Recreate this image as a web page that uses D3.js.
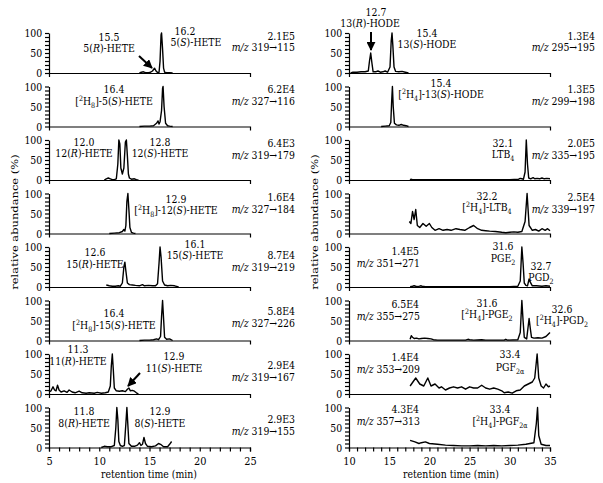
<!DOCTYPE html>
<html><head><meta charset="utf-8">
<script src="https://cdn.jsdelivr.net/npm/d3@7"></script>
<style>
body{margin:0;background:#fff}
</style>
</head><body>
<svg id="c" width="603" height="483"></svg>
<script>
// ---------------- DATA ----------------
const trace_5HETE = [[14.0,0],[14.2,2],[14.4,3],[14.6,1],[14.9,1],[15.1,2],[15.3,5],[15.5,12],[15.65,5],[15.8,1],[15.95,2],[16.05,30],[16.15,95],[16.2,100],[16.3,60],[16.4,12],[16.5,2],[16.7,1],[17.0,1],[17.3,0]];
const trace_d8_5HETE = [[14.0,0],[14.5,1],[15.0,1],[15.4,2],[15.7,8],[15.85,14],[15.95,6],[16.05,12],[16.2,40],[16.3,95],[16.35,100],[16.45,50],[16.6,8],[16.8,2],[17.0,1],[17.3,0]];
const trace_12HETE = [[10.5,0],[10.7,3],[10.9,5],[11.1,3],[11.3,1],[11.5,1],[11.7,3],[11.85,40],[11.95,100],[12.05,90],[12.15,30],[12.3,15],[12.45,30],[12.6,95],[12.7,100],[12.8,60],[12.9,15],[13.0,5],[13.2,2],[13.5,3],[13.7,1],[13.9,0]];
const trace_d8_12HETE = [[11.0,0],[11.5,1],[12.0,2],[12.3,5],[12.45,10],[12.55,6],[12.65,20],[12.75,80],[12.85,100],[12.95,60],[13.05,15],[13.2,3],[13.4,1],[13.6,0]];
const trace_15HETE = [[10.7,5],[11.0,3],[11.3,2],[11.6,2],[11.9,3],[12.1,2],[12.3,10],[12.45,50],[12.55,62],[12.65,40],[12.8,10],[13.0,6],[13.3,5],[13.6,4],[14.0,3],[14.3,6],[14.5,3],[14.9,4],[15.3,3],[15.6,3],[15.8,8],[15.95,60],[16.05,100],[16.15,75],[16.3,15],[16.5,5],[16.8,3],[17.1,4],[17.5,3],[17.9,0]];
const trace_d8_15HETE = [[14.0,0],[14.5,1],[15.0,1],[15.4,2],[15.7,4],[15.9,2],[16.1,10],[16.2,60],[16.3,100],[16.4,55],[16.5,8],[16.7,3],[17.0,4],[17.3,0]];
const trace_11HETE = [[5.0,5],[5.2,8],[5.4,18],[5.55,10],[5.7,8],[5.85,22],[6.0,10],[6.2,5],[6.5,8],[6.8,4],[7.0,10],[7.3,5],[7.6,3],[8.0,7],[8.3,3],[8.7,2],[9.0,3],[9.5,2],[9.8,4],[10.2,2],[10.6,3],[10.9,5],[11.1,20],[11.2,70],[11.3,100],[11.4,60],[11.5,15],[11.7,8],[12.0,7],[12.3,8],[12.6,6],[12.8,12],[12.95,15],[13.1,8],[13.3,9],[13.5,7],[13.7,3],[13.9,0]];
const trace_8HETE = [[10.2,0],[10.5,3],[10.8,2],[11.2,2],[11.5,5],[11.65,50],[11.75,100],[11.85,70],[11.95,15],[12.1,5],[12.3,3],[12.5,5],[12.65,60],[12.75,100],[12.85,55],[12.95,10],[13.2,3],[13.5,3],[13.8,6],[14.0,12],[14.15,5],[14.3,8],[14.45,25],[14.6,10],[14.8,3],[15.2,2],[15.6,4],[15.9,10],[16.1,8],[16.4,2],[16.8,2],[17.0,8],[17.2,15]];

const trace_13HODE = [[10.2,0],[10.5,2],[11.0,2],[11.5,3],[12.0,3],[12.4,5],[12.55,30],[12.7,50],[12.85,25],[13.0,3],[13.3,3],[13.6,5],[13.9,2],[14.2,3],[14.5,5],[14.8,2],[15.1,15],[15.25,80],[15.35,100],[15.45,70],[15.6,15],[15.8,4],[16.2,3],[16.6,4],[17.0,2],[17.4,0]];
const trace_d4_13HODE = [[14.0,0],[14.5,1],[15.0,2],[15.2,10],[15.3,60],[15.4,100],[15.5,50],[15.65,8],[15.9,4],[16.2,3],[16.5,5],[16.8,3],[17.1,2],[17.4,0]];
const trace_LTB4 = [[17.6,0],[17.7,2],[17.9,1],[18.5,1],[20,1],[22,1],[25,1],[28,1],[30,1],[31.1,2],[31.3,4],[31.5,3],[31.7,2],[31.9,20],[32.05,100],[32.2,40],[32.35,5],[32.6,3],[32.9,6],[33.1,3],[33.4,4],[33.7,3],[34,5],[34.3,3],[34.6,4],[35,3]];
const trace_d4_LTB4 = [[17.5,30],[17.7,25],[17.9,55],[18.1,35],[18.3,60],[18.5,20],[18.8,15],[19.2,25],[19.6,18],[20.0,25],[20.3,15],[20.7,8],[21.2,12],[21.7,8],[22.2,10],[22.7,8],[23.3,12],[23.8,10],[24.4,8],[25.0,15],[25.5,20],[26.0,12],[26.5,8],[27,7],[27.5,6],[28.2,5],[29,3],[29.5,2],[30,3],[30.5,4],[31,3],[31.5,5],[31.9,30],[32.15,100],[32.4,20],[32.8,8],[33.2,10],[33.6,6],[34,12],[34.4,8],[34.7,12],[35,7]];
const trace_PGE2_PGD2 = [[17.6,1],[17.9,2],[18.1,3],[18.3,2],[18.6,1],[18.9,3],[19.1,2],[19.5,1],[22,1],[25,1],[28,1],[30,1],[31.0,2],[31.3,15],[31.5,100],[31.65,60],[31.8,10],[32.0,4],[32.2,3],[32.4,20],[32.55,12],[32.8,3],[33.3,3],[34,2],[34.5,3],[35,2]];
const trace_d4_PGE2_PGD2 = [[17.6,3],[17.75,12],[17.9,8],[18.1,5],[18.4,6],[18.7,4],[19,5],[19.4,6],[19.8,5],[20.2,4],[20.5,2],[21,1],[23,1],[24.5,1],[24.8,3],[25,2],[25.5,1],[26.5,2],[27,1],[29.3,1],[29.5,3],[29.7,1],[31.0,2],[31.3,20],[31.5,100],[31.65,50],[31.8,8],[32.1,4],[32.4,55],[32.55,30],[32.7,8],[33.0,6],[33.5,7],[34,6],[34.5,10],[35,20]];
const trace_PGF2a = [[17.6,20],[18.3,40],[18.8,25],[19.3,20],[19.8,40],[20.2,20],[20.7,25],[21.2,15],[21.5,18],[22,10],[22.5,15],[23,18],[23.5,15],[24,18],[24.5,12],[25,18],[25.5,15],[26,15],[26.5,22],[27,15],[27.5,12],[28,15],[28.5,12],[29,8],[29.3,3],[29.8,5],[30.3,2],[30.8,8],[31.3,10],[31.8,20],[32.3,25],[32.8,30],[33.1,40],[33.4,100],[33.6,40],[33.9,20],[34.2,15],[34.5,25],[34.8,18],[35,20]];
const trace_d4_PGF2a = [[17.6,18],[18.2,14],[18.7,10],[19.0,12],[19.5,14],[20,10],[21,8],[22,6],[23,5],[24,4],[25,4],[26,5],[27,4],[28,5],[29,4],[30,5],[31,6],[32,8],[32.5,10],[33,12],[33.3,60],[33.45,100],[33.6,30],[33.9,8],[34.5,5],[35,5]];

const leftTraces = [trace_5HETE, trace_d8_5HETE, trace_12HETE, trace_d8_12HETE, trace_15HETE, trace_d8_15HETE, trace_11HETE, trace_8HETE];
const rightTraces = [trace_13HODE, trace_d4_13HODE, trace_LTB4, trace_d4_LTB4, trace_PGE2_PGD2, trace_d4_PGE2_PGD2, trace_PGF2a, trace_d4_PGF2a];

const leftIntensity = ["2.1E5","6.2E4","6.4E3","1.6E4","8.7E4","5.8E4","2.9E4","2.9E3"];
const leftTransition = ["319→115","327→116","319→179","327→184","319→219","327→226","319→167","319→155"];
const rightIntensity = ["1.3E4","1.3E5","2.0E5","2.5E4","1.4E5","6.5E4","1.4E4","4.3E4"];
const rightTransition = ["295→195","299→198","335→195","339→197","351→271","355→275","353→209","357→313"];

const leftXDomain = [5, 25];
const rightXDomain = [10, 35];
const leftXTickLabels = [5, 10, 15, 20, 25];
const rightXTickLabels = [10, 15, 20, 25, 30, 35];
const yTickLabels = [0, 50, 100];
const yTitle = "relative abundance (%)";
const xTitle = "retention time (min)";

const leftPeakLabels = [
  [["15.5","5(*R*)-HETE"],["16.2","5(*S*)-HETE"]],
  [["16.4","[^2H_8]-5(*S*)-HETE"]],
  [["12.0","12(*R*)-HETE"],["12.8","12(*S*)-HETE"]],
  [["12.9","[^2H_8]-12(*S*)-HETE"]],
  [["12.6","15(*R*)-HETE"],["16.1","15(*S*)-HETE"]],
  [["16.4","[^2H_8]-15(*S*)-HETE"]],
  [["11.3","11(*R*)-HETE"],["12.9","11(*S*)-HETE"]],
  [["11.8","8(*R*)-HETE"],["12.9","8(*S*)-HETE"]]
];
const rightPeakLabels = [
  [["12.7","13(*R*)-HODE"],["15.4","13(*S*)-HODE"]],
  [["15.4","[^2H_4]-13(*S*)-HODE"]],
  [["32.1","LTB_4"]],
  [["32.2","[^2H_4]-LTB_4"]],
  [["31.6","PGE_2"],["32.7","PGD_2"]],
  [["31.6","[^2H_4]-PGE_2"],["32.6","[^2H_4]-PGD_2"]],
  [["33.4","PGF_2_α"]],
  [["33.4","[^2H_4]-PGF_2_α"]]
];

// ---------------- LAYOUT ----------------
const FONT = "DejaVu Serif";
const SX = 0.85;            // horizontal squeeze of the glyphs, as in the reference
const FS = 11;
const svg = d3.select("#c");
const rowBase = i => 73 + 53.5 * i;
const panelH = 40;
const cols = [
  {x0: 49, x1: 250, domain: leftXDomain, ticks: leftXTickLabels, traces: leftTraces,
   inten: leftIntensity, trans: leftTransition, peaks: leftPeakLabels, titleX: 18, xTitleX: 149},
  {x0: 349, x1: 550, domain: rightXDomain, ticks: rightXTickLabels, traces: rightTraces,
   inten: rightIntensity, trans: rightTransition, peaks: rightPeakLabels, titleX: 318, xTitleX: 451}
];

// label positions: [x, baseline of retention-time line, baseline of name line] (or [xRt, yRt, yName, xName])
const leftPeakPos = [
  [[109,41,52],[185,35,46,196]],
  [[114,93,105]],
  [[84,146,157],[160,146,157]],
  [[176,203,214]],
  [[95,256,268],[195,248,259]],
  [[114,317,329]],
  [[78,353,365],[174,360,372]],
  [[84,415,427],[160,415,427]]
];
const rightPeakPos = [
  [[376,16,27,370],[427,37,48]],
  [[441,87,98]],
  [[503,147,158]],
  [[487,200,211]],
  [[503,250,262],[541,270,281]],
  [[487,307,318],[562,313,324]],
  [[510,358,371]],
  [[500,413,425]]
];
const leftInfoY = [[40,51],[93,105],[147,159],[201,213],[259,271],[315,327],[369,381],[423,435]];
const rightInfoY = [[40,51],[93,105],[147,159],[201,213],[255,267],[308,320],[361,373],[413,425]];

const defs = svg.append("defs");
defs.append("marker").attr("id","ah").attr("viewBox","0 0 10 10").attr("refX",9).attr("refY",5)
  .attr("markerWidth",4.5).attr("markerHeight",4.5).attr("orient","auto")
  .append("path").attr("d","M0,0 L10,5 L0,10 z").attr("fill","#000");

function rich(textSel, str, fs) {
  let italic = false, buf = "", i = 0, pending = 0;
  const addSpan = (txt, opts) => {
    const t = textSel.append("tspan").text(txt);
    let dy = pending + (opts && opts.shift ? opts.shift : 0);
    if (dy) t.attr("dy", dy);
    pending = opts && opts.shift ? -opts.shift : 0;
    if (opts && opts.small) t.attr("font-size", (fs * 0.68).toFixed(2));
    if (italic) t.attr("font-style", "italic");
  };
  const flush = () => { if (buf) { addSpan(buf); buf = ""; } };
  while (i < str.length) {
    const c = str[i];
    if (c === "*") { flush(); italic = !italic; i++; }
    else if (c === "^" || c === "_") {
      flush();
      const sh = c === "^" ? -0.38 * fs : 0.26 * fs;
      const wasItalic = italic; italic = false;
      addSpan(str[i+1], {shift: sh, small: true});
      italic = wasItalic;
      i += 2;
    } else { buf += c; i++; }
  }
  flush();
  return textSel;
}
function label(x, y, str, anchor, fs) {
  fs = fs || FS;
  const t = svg.append("text").attr("transform", `translate(${x},${y}) scale(${SX},1)`)
    .attr("text-anchor", anchor || "middle")
    .attr("font-family", FONT).attr("font-size", fs).attr("fill", "#000");
  rich(t, str, fs);
  return t;
}

cols.forEach((col, ci) => {
  const x = d3.scaleLinear().domain(col.domain).range([col.x0, col.x1]);
  for (let r = 0; r < 8; r++) {
    const base = rowBase(r);
    const y = d3.scaleLinear().domain([0, 100]).range([base, base - panelH]);
    const g = svg.append("g");
    const ya = d3.axisLeft(y).tickValues(d3.range(0, 101, 10)).tickSize(4).tickSizeOuter(0).tickPadding(4)
      .tickFormat(d => yTickLabels.includes(d) ? d : "");
    const yg = g.append("g").attr("transform", `translate(${col.x0},0)`).call(ya)
      .attr("font-family", FONT).attr("font-size", FS);
    yg.selectAll("text").attr("transform", `scale(${SX},1)`);
    yg.selectAll("line,path").attr("stroke", "#000").attr("stroke-width", 1.2);
    const last = r === 7;
    const xa = d3.axisBottom(x).tickSizeOuter(0)
      .tickValues(last ? d3.range(col.domain[0], col.domain[1] + 1, 1) : [])
      .tickSize(4).tickPadding(5)
      .tickFormat(d => col.ticks.includes(d) ? d : "");
    const xg = g.append("g").attr("transform", `translate(0,${base})`).call(xa)
      .attr("font-family", FONT).attr("font-size", 11.5);
    xg.selectAll("text").attr("transform", `scale(${SX},1)`);
    xg.selectAll("line,path").attr("stroke", "#000").attr("stroke-width", 1.2);
    const line = d3.line().x(d => x(d[0])).y(d => y(d[1]));
    g.append("path").datum(col.traces[r]).attr("d", line).attr("fill", "none")
      .attr("stroke", "#000").attr("stroke-width", 1.4).attr("stroke-linejoin", "round");

    if (ci === 1 && r >= 4) {
      label(419, rightInfoY[r][0], col.inten[r], "end");
      label(420, rightInfoY[r][1], "*m/z* " + col.trans[r], "end");
    } else {
      const ex = ci === 0 ? 295 : 595;
      const iy = ci === 0 ? leftInfoY[r] : rightInfoY[r];
      label(ex, iy[0], col.inten[r], "end");
      label(ex, iy[1], "*m/z* " + col.trans[r], "end");
    }
    const pos = ci === 0 ? leftPeakPos[r] : rightPeakPos[r];
    col.peaks[r].forEach((pk, k) => {
      const p = pos[k];
      label(p[0], p[1], pk[0], "middle");
      label(p.length > 3 ? p[3] : p[0], p[2], pk[1], "middle");
    });
  }
  svg.append("text").attr("transform", `translate(${col.titleX},222) scale(${SX},1) rotate(-90)`)
    .attr("text-anchor", "middle").attr("font-family", FONT).attr("font-size", 11.5).text(yTitle);
  svg.append("text").attr("transform", `translate(${col.xTitleX},478) scale(${SX},1)`).attr("text-anchor", "middle")
    .attr("font-family", FONT).attr("font-size", 11).text(xTitle);
});

const arrows = [[139,56,152,68],[140,373,128,386],[371,32,371,50]];
arrows.forEach(a => svg.append("line").attr("x1",a[0]).attr("y1",a[1]).attr("x2",a[2]).attr("y2",a[3])
  .attr("stroke","#000").attr("stroke-width",2).attr("marker-end","url(#ah)"));
</script>
</body></html>
